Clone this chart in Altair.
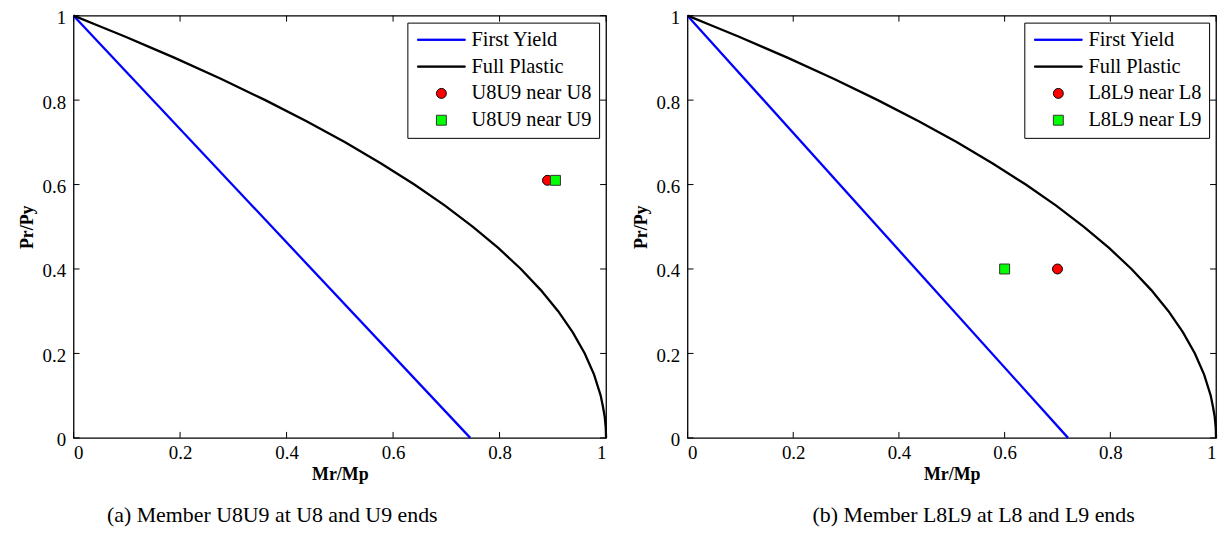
import altair as alt
import pandas as pd

# ---------------- data ----------------
tick_vals = [0, 0.2, 0.4, 0.6, 0.8, 1.0]

# Full plastic interaction curve (P/Py, M/Mp)
fp_p = [1.0, 0.975, 0.95, 0.925, 0.9, 0.85, 0.8, 0.75, 0.7, 0.65, 0.6, 0.55,
        0.5, 0.45, 0.4, 0.35, 0.3, 0.25, 0.2, 0.15, 0.1, 0.075, 0.05, 0.025, 0.0]
fp_m = [0.0, 0.049, 0.0975, 0.144, 0.19, 0.2775, 0.36, 0.4375, 0.51, 0.5775, 0.64, 0.6975,
        0.75, 0.7975, 0.84, 0.8775, 0.91, 0.9375, 0.96, 0.9775, 0.99, 0.994, 0.9975, 0.9994, 1.0]

# First yield lines
fy_a_m = [0.0, 0.745]
fy_a_p = [1.0, 0.0]
fy_b_m = [0.0, 0.72]
fy_b_p = [1.0, 0.0]

# Member points
pts_a_names = ["U8U9 near U8", "U8U9 near U9"]
pts_a_m = [0.89, 0.905]
pts_a_p = [0.61, 0.61]
pts_b_names = ["L8L9 near L8", "L8L9 near L9"]
pts_b_m = [0.70, 0.60]
pts_b_p = [0.40, 0.40]

line_names = ["First Yield", "Full Plastic"]
captions = ["(a) Member U8U9 at U8 and U9 ends", "(b) Member L8L9 at L8 and L9 ends"]

SERIF = "Liberation Serif, Times New Roman, serif"
H = 425
LINE_PATH = "M-4.8,-0.13L4.8,-0.13L4.8,0.13L-4.8,0.13Z"


def panel(fy_m, fy_p, names, pm, pp, caption, width, dx):
    rows = []
    for i, (m, p) in enumerate(zip(fy_m, fy_p)):
        rows.append({"series": line_names[0], "m": m, "p": p, "o": i})
    for i, (m, p) in enumerate(zip(fp_m, fp_p)):
        rows.append({"series": line_names[1], "m": m, "p": p, "o": i})
    lines_df = pd.DataFrame(rows)
    pts_df = pd.DataFrame({"series": names, "m": pm, "p": pp})
    ticks_df = pd.DataFrame({"m": tick_vals, "p": tick_vals})

    xs = alt.Scale(domain=[0, 1], nice=False, zero=False)
    ys = alt.Scale(domain=[0, 1], nice=False, zero=False)
    xax = alt.Axis(title="Mr/Mp", values=tick_vals, format="~g", grid=False,
                   ticks=False, domain=False, labelPadding=6, titlePadding=3,
                   labelFont=SERIF, labelFontSize=19, labelColor="black",
                   titleFont=SERIF, titleFontSize=18, titleFontWeight="bold", titleColor="black")
    yax = alt.Axis(title="Pr/Py", values=tick_vals, format="~g", grid=False,
                   ticks=False, domain=False, labelPadding=8, titlePadding=6, labelOffset=2,
                   labelFont=SERIF, labelFontSize=19, labelColor="black",
                   titleFont=SERIF, titleFontSize=18, titleFontWeight="bold", titleColor="black")
    X = alt.X("m:Q", scale=xs, axis=xax)
    Y = alt.Y("p:Q", scale=ys, axis=yax)

    lines = alt.Chart(lines_df).mark_line(strokeWidth=2.3).encode(
        x=X, y=Y,
        color=alt.Color("series:N", scale=alt.Scale(domain=line_names,
                                                    range=["#0000ff", "#000000"]),
                        legend=None),
        order="o:Q",
    )

    dom = line_names + names
    leg = alt.Legend(title=None, orient="top-right", offset=7, padding=7,
                     strokeColor="black", fillColor="white", cornerRadius=0,
                     labelFont=SERIF, labelFontSize=20.5, labelColor="black",
                     symbolSize=100, symbolOffset=17, labelOffset=20,
                     rowPadding=6, symbolStrokeWidth=1, labelLimit=300)
    points = alt.Chart(pts_df).mark_point(filled=True, size=100, strokeWidth=1, opacity=1).encode(
        x=X, y=Y,
        fill=alt.Fill("series:N", scale=alt.Scale(domain=dom,
                      range=["#0000ff", "#000000", "#ff0000", "#00ff00"]), legend=leg),
        stroke=alt.Stroke("series:N", scale=alt.Scale(domain=dom,
                          range=["#0000ff", "#000000", "#000000", "#333333"]), legend=leg),
        shape=alt.Shape("series:N", scale=alt.Scale(domain=dom,
                        range=[LINE_PATH, LINE_PATH, "circle", "square"]), legend=leg),
    )

    tick_len = 6
    top_t = alt.Chart(ticks_df).mark_rule(color="black", strokeWidth=1).encode(
        x=X, y=alt.value(0), y2=alt.value(tick_len))
    bot_t = alt.Chart(ticks_df).mark_rule(color="black", strokeWidth=1).encode(
        x=X, y=alt.value(H), y2=alt.value(H - tick_len))
    left_t = alt.Chart(ticks_df).mark_rule(color="black", strokeWidth=1).encode(
        y=Y, x=alt.value(0), x2=alt.value(tick_len))
    right_t = alt.Chart(ticks_df).mark_rule(color="black", strokeWidth=1).encode(
        y=Y, x=alt.value(width), x2=alt.value(width - tick_len))

    return alt.layer(top_t, bot_t, left_t, right_t, lines, points).properties(
        width=width, height=H,
        title=alt.Title(caption, orient="bottom", anchor="middle", frame="group",
                        dx=dx, offset=22, fontSize=22, font=SERIF,
                        fontWeight="normal", color="black"),
    ).resolve_scale(fill="independent", stroke="independent", shape="independent")


left = panel(fy_a_m, fy_a_p, pts_a_names, pts_a_m, pts_a_p, captions[0], 536, -68)
right = panel(fy_b_m, fy_b_p, pts_b_names, pts_b_m, pts_b_p, captions[1], 532, 22)

chart = alt.hconcat(left, right, spacing=19).resolve_scale(
    fill="independent", stroke="independent", shape="independent",
    x="independent", y="independent",
).resolve_legend(fill="independent", stroke="independent", shape="independent").properties(
    padding={"left": 9, "top": -2, "right": 0, "bottom": 0},
    background="white",
).configure_view(stroke="black", strokeWidth=1.3)

chart.save("out.html", embed_options={"renderer": "svg", "actions": False})
